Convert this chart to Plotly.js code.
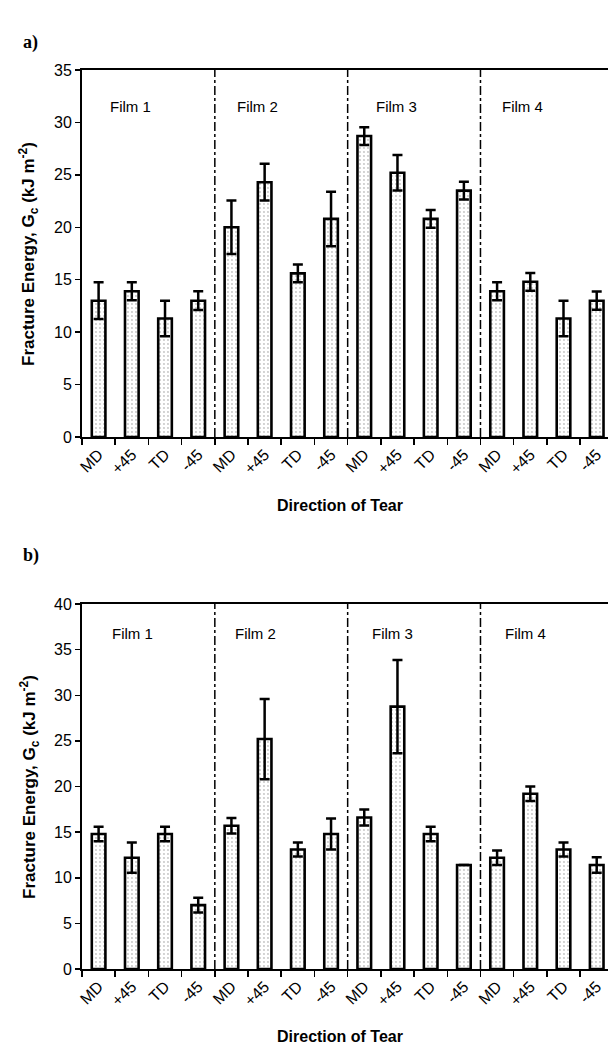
<!DOCTYPE html>
<html>
<head>
<meta charset="utf-8">
<script src="https://cdn.plot.ly/plotly-3.0.1.min.js"></script>
<style>
  html, body { margin: 0; padding: 0; background: #fff; }
  #chart { width: 608px; height: 1046px; }
</style>
</head>
<body>
<div id="chart"></div>
<script>
// ---- data ----
const categories = ['MD', '+45', 'TD', '-45', 'MD', '+45', 'TD', '-45',
                    'MD', '+45', 'TD', '-45', 'MD', '+45', 'TD', '-45'];
const films = ['Film 1', 'Film 2', 'Film 3', 'Film 4'];

// panel a)
const gcA  = [13.0, 13.9, 11.3, 13.0,  20.0, 24.3, 15.6, 20.8,  28.7, 25.2, 20.8, 23.5,  13.9, 14.8, 11.3, 13.0];
const errA = [1.75, 0.85, 1.7, 0.9,    2.55, 1.75, 0.85, 2.6,   0.85, 1.7, 0.85, 0.85,   0.85, 0.85, 1.7, 0.87];

// panel b)
const gcB  = [14.8, 12.2, 14.8, 7.0,   15.7, 25.2, 13.1, 14.8,  16.6, 28.75, 14.8, 11.4,  12.2, 19.2, 13.1, 11.4];
const errB = [0.8, 1.65, 0.8, 0.8,     0.84, 4.4, 0.77, 1.7,    0.87, 5.1, 0.8, null,     0.8, 0.8, 0.77, 0.84];

const yTitle = 'Fracture Energy, G<sub>c</sub> (kJ m<sup>-2</sup>)';
const xTitle = 'Direction of Tear';

// ---- construction ----
const xIdx = categories.map((c, i) => i);
const dividers = films.slice(1).map((f, i) => (i + 1) * 4 - 0.5);
const filmCenters = films.map((f, i) => i * 4 + 1.5);

const FONT = 'Liberation Sans, Arial, sans-serif';

function barTrace(vals, errs, xa, ya) {
  return {
    type: 'bar',
    x: xIdx,
    y: vals,
    xaxis: xa,
    yaxis: ya,
    width: 0.41,
    marker: {
      color: 'white',
      line: { color: 'black', width: 2.6 },
      pattern: { shape: '.', fgcolor: '#c4c4c4', bgcolor: 'white', size: 4, solidity: 0.18 }
    },
    error_y: {
      type: 'data',
      array: errs,
      symmetric: true,
      visible: true,
      color: 'black',
      thickness: 2.5,
      width: 5
    },
    showlegend: false,
    hoverinfo: 'x+y'
  };
}

function xAxis(anchor) {
  return {
    anchor: anchor,
    domain: [0, 1],
    range: [-0.5, 15.34],
    tickmode: 'array',
    tickvals: xIdx,
    ticktext: categories,
    tickangle: -45,
    ticks: '',
    minor: { tickmode: 'linear', tick0: -0.5, dtick: 1, ticks: 'outside', ticklen: 6, tickwidth: 1.5, tickcolor: 'black', showgrid: false },
    tickfont: { family: FONT, size: 16, color: 'black' },
    showline: true,
    linecolor: 'black',
    linewidth: 2,
    mirror: true,
    showgrid: false,
    zeroline: false,
    fixedrange: true,
    automargin: false
  };
}

function yAxis(anchor, domain, maxV) {
  return {
    anchor: anchor,
    domain: domain,
    range: [0, maxV],
    dtick: 5,
    ticks: 'outside',
    ticklen: 5,
    tickwidth: 1.5,
    tickcolor: 'black',
    tickfont: { family: FONT, size: 16, color: 'black' },
    showline: true,
    linecolor: 'black',
    linewidth: 2,
    showgrid: false,
    zeroline: false,
    fixedrange: true,
    automargin: false
  };
}

const data = [
  barTrace(gcA, errA, 'x', 'y'),
  barTrace(gcB, errB, 'x2', 'y2')
];

const shapes = [];
dividers.forEach(d => {
  shapes.push({ type: 'line', xref: 'x', yref: 'y', x0: d, x1: d, y0: 0, y1: 35,
                line: { color: 'black', width: 1.5, dash: 'dashdot' } });
  shapes.push({ type: 'line', xref: 'x2', yref: 'y2', x0: d, x1: d, y0: 0, y1: 40,
                line: { color: 'black', width: 1.5, dash: 'dashdot' } });
});

const annotations = [];
const filmOffsetsA = [-0.55, -0.73, -0.54, -0.74];
const filmOffsetsB = [-0.47, -0.77, -0.65, -0.65];
films.forEach((f, i) => {
  annotations.push({ xref: 'x', yref: 'y', x: filmCenters[i] + filmOffsetsA[i], y: 31.5, text: f,
                     showarrow: false, font: { family: FONT, size: 15, color: 'black' } });
  annotations.push({ xref: 'x2', yref: 'y2', x: filmCenters[i] + filmOffsetsB[i], y: 36.8, text: f,
                     showarrow: false, font: { family: FONT, size: 15, color: 'black' } });
});

// axis titles & panel letters
const W = 526, H = 899, L = 82, T = 70;
const px = x => (x - L) / W;
const py = y => (T + H - y) / H;
annotations.push(
  { xref: 'paper', yref: 'paper', x: px(29), y: py(254), text: yTitle, textangle: -90, showarrow: false,
    xanchor: 'center', yanchor: 'middle', font: { family: FONT, size: 17, color: 'black', weight: 'bold' } },
  { xref: 'paper', yref: 'paper', x: px(29), y: py(787), text: yTitle, textangle: -90, showarrow: false,
    xanchor: 'center', yanchor: 'middle', font: { family: FONT, size: 17, color: 'black', weight: 'bold' } },
  { xref: 'paper', yref: 'paper', x: px(340), y: py(505), text: xTitle, showarrow: false,
    xanchor: 'center', yanchor: 'middle', font: { family: FONT, size: 16, color: 'black', weight: 'bold' } },
  { xref: 'paper', yref: 'paper', x: px(340), y: py(1036), text: xTitle, showarrow: false,
    xanchor: 'center', yanchor: 'middle', font: { family: FONT, size: 16, color: 'black', weight: 'bold' } },
  { xref: 'paper', yref: 'paper', x: px(21), y: py(43), text: 'a)', showarrow: false,
    xanchor: 'left', yanchor: 'middle', font: { family: 'Liberation Serif, Times New Roman, serif', size: 18, color: 'black', weight: 'bold' } },
  { xref: 'paper', yref: 'paper', x: px(21), y: py(555), text: 'b)', showarrow: false,
    xanchor: 'left', yanchor: 'middle', font: { family: 'Liberation Serif, Times New Roman, serif', size: 18, color: 'black', weight: 'bold' } }
);

const layout = {
  width: 608,
  height: 1046,
  margin: { l: L, r: 0, t: T, b: 1046 - T - H, pad: 0 },
  paper_bgcolor: 'white',
  plot_bgcolor: 'white',
  font: { family: FONT, color: 'black' },
  showlegend: false,
  bargap: 0.5,
  xaxis: xAxis('y'),
  yaxis: yAxis('x', [py(437), 1], 35),
  xaxis2: xAxis('y2'),
  yaxis2: yAxis('x2', [0, py(604)], 40),
  shapes: shapes,
  annotations: annotations
};

Plotly.newPlot('chart', data, layout, { displayModeBar: false, staticPlot: true });
</script>
</body>
</html>
